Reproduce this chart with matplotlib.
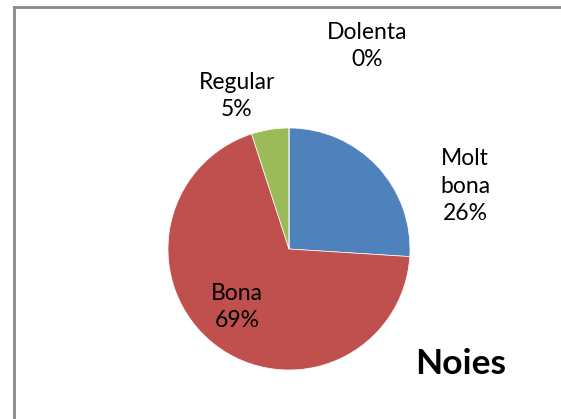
import matplotlib

matplotlib.use("Agg")
import matplotlib.pyplot as plt
from matplotlib.lines import Line2D

plt.rcParams["font.family"] = ["Lato", "DejaVu Sans"]

categories = ["Molt bona", "Bona", "Regular", "Dolenta"]
shares = [26, 69, 5, 0]
colors = ["#4F81BD", "#C0504D", "#9BBB59", "#8064A2"]
title = "Noies"

W, H = 561, 419
fig = plt.figure(figsize=(W / 100, H / 100), dpi=100)

# grey frame (only the left and top edges show in the crop)
fig.add_artist(Line2D([13.5 / W, 13.5 / W], [0, 1 - 7.5 / H], color="#898989", lw=2))
fig.add_artist(Line2D([13.5 / W, 1], [1 - 7.5 / H, 1 - 7.5 / H], color="#898989", lw=2))

cx, cy, r = 289, 249, 121
ax = fig.add_axes([(cx - r) / W, (H - cy - r) / H, 2 * r / W, 2 * r / H])
ax.pie(shares, colors=colors, startangle=90, counterclock=False, radius=1,
       wedgeprops=dict(edgecolor="white", linewidth=0.5))
ax.set_xlim(-1, 1)
ax.set_ylim(-1, 1)
ax.set_aspect("equal")
ax.axis("off")

labels = [f"Molt\nbona\n{shares[0]}%", f"Bona\n{shares[1]}%",
          f"Regular\n{shares[2]}%", f"Dolenta\n{shares[3]}%"]
label_pos = [(465, 186), (237, 307), (237, 96), (367, 46)]
for text, (x, y) in zip(labels, label_pos):
    fig.text(x / W, 1 - y / H, text, ha="center", va="center", fontsize=16.5,
             linespacing=1.4, color="black")

fig.text(461 / W, 1 - 364 / H, title, ha="center", va="center", fontsize=25.5,
         fontweight="bold")

fig.savefig("out.png", dpi=100)
